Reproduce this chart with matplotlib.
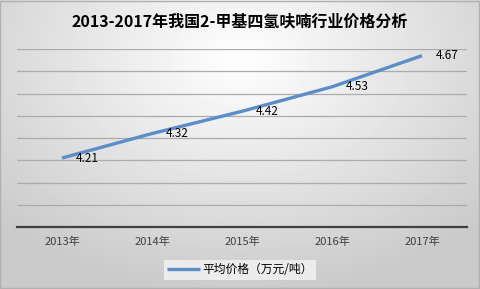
import numpy as np
import matplotlib.pyplot as plt
from matplotlib.patches import Rectangle

plt.rcParams['font.family'] = ['Noto Sans CJK SC', 'DejaVu Sans']

# data
years = ["2013年", "2014年", "2015年", "2016年", "2017年"]
prices = [4.21, 4.32, 4.42, 4.53, 4.67]
series_name = "平均价格（万元/吨）"
title = "2013-2017年我国2-甲基四氢呋喃行业价格分析"

fig = plt.figure(figsize=(4.8, 2.89), dpi=100)

# radial grey background like the office chart style
bg = fig.add_axes([0, 0, 1, 1])
yy, xx = np.mgrid[0:1:289j, 0:1:480j]
r = np.sqrt(((xx - 0.5) / 0.8) ** 2 + ((yy - 0.2) / 0.95) ** 2)
shade = np.clip(1.0 - 0.24 * r, 0.79, 0.99)
bg.imshow(shade, cmap="gray", vmin=0, vmax=1, aspect="auto", extent=[0, 1, 0, 1], origin="upper")
bg.add_patch(Rectangle((0.001, 0.002), 0.997, 0.995, fill=False, edgecolor="#b0b0b0", linewidth=1))
bg.set_xlim(0, 1)
bg.set_ylim(0, 1)
bg.axis("off")

ax = fig.add_axes([17 / 480, 62 / 289, 450 / 480, 178 / 289])
ax.patch.set_alpha(0)
x = np.arange(len(years))
line, = ax.plot(x, prices, color="#5b8dc8", linewidth=2.4, solid_capstyle="butt", label=series_name)

for xi, v in zip(x, prices):
    ax.annotate(f"{v:.2f}", (xi, v), xytext=(10, 0), textcoords="offset points",
                ha="left", va="center", fontsize=8.5, color="black")

ax.set_xlim(-0.5, len(years) - 0.5)
ax.set_ylim(3.9, 4.7)
ax.set_yticks(np.arange(3.9, 4.71, 0.1))
ax.yaxis.grid(True, color="#ababab", linewidth=0.9)
ax.set_axisbelow(True)
ax.tick_params(axis="y", left=False, labelleft=False)
ax.tick_params(axis="x", length=0, pad=7, labelsize=8, labelcolor="#404040")
ax.set_xticks(x)
ax.set_xticklabels(years)
for s in ["top", "right", "left"]:
    ax.spines[s].set_visible(False)
ax.spines["bottom"].set_color("#404040")
ax.spines["bottom"].set_linewidth(1.6)

fig.text(0.5, 0.925, title, ha="center", va="center", fontsize=11.5, fontweight="bold", color="black")

leg = fig.legend(handles=[line], loc="center", bbox_to_anchor=(0.5, 0.066), frameon=True,
                 fontsize=8.5, handlelength=2.8, handletextpad=0.2, borderpad=0.3, fancybox=False)
leg.get_frame().set_facecolor("#ececec")
leg.get_frame().set_edgecolor("none")
leg.get_frame().set_alpha(1)

fig.savefig("out.png", dpi=100)
